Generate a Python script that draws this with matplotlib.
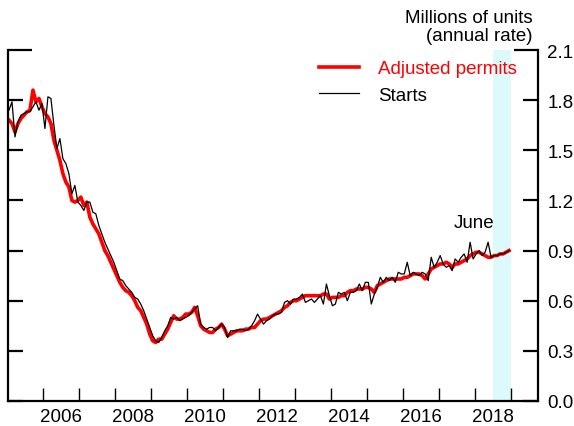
import numpy as np
import matplotlib
matplotlib.use("Agg")
import matplotlib.pyplot as plt

plt.rcParams['font.family'] = ['Liberation Sans', 'DejaVu Sans']

# monthly values, Jan 2005 onward (millions of units, annual rate)
permits = [
    1.68, 1.66, 1.61, 1.66, 1.69, 1.71, 1.73, 1.74, 1.86, 1.79, 1.81, 1.76,  # 2005
    1.72, 1.70, 1.66, 1.56, 1.50, 1.44, 1.36, 1.31, 1.28, 1.20, 1.19, 1.20,  # 2006
    1.22, 1.17, 1.19, 1.10, 1.06, 1.03, 1.00, 0.95, 0.90, 0.87, 0.83, 0.79,  # 2007
    0.75, 0.71, 0.68, 0.66, 0.65, 0.63, 0.60, 0.56, 0.54, 0.50, 0.46, 0.40,  # 2008
    0.36, 0.35, 0.37, 0.37, 0.40, 0.43, 0.47, 0.51, 0.49, 0.49, 0.50, 0.52,  # 2009
    0.52, 0.53, 0.56, 0.51, 0.45, 0.43, 0.42, 0.41, 0.41, 0.43, 0.44, 0.46,  # 2010
    0.43, 0.39, 0.40, 0.41, 0.42, 0.42, 0.42, 0.43, 0.43, 0.44, 0.44, 0.46,  # 2011
    0.48, 0.49, 0.49, 0.50, 0.51, 0.52, 0.53, 0.54, 0.56, 0.57, 0.59, 0.60,  # 2012
    0.60, 0.61, 0.62, 0.63, 0.63, 0.63, 0.63, 0.63, 0.63, 0.64, 0.64, 0.61,  # 2013
    0.62, 0.62, 0.62, 0.63, 0.63, 0.65, 0.66, 0.66, 0.67, 0.67, 0.67, 0.68,  # 2014
    0.68, 0.67, 0.65, 0.69, 0.70, 0.71, 0.72, 0.73, 0.73, 0.73, 0.73, 0.73,  # 2015
    0.74, 0.74, 0.75, 0.76, 0.76, 0.76, 0.75, 0.73, 0.76, 0.79, 0.80, 0.81,  # 2016
    0.82, 0.82, 0.83, 0.82, 0.80, 0.82, 0.82, 0.83, 0.84, 0.85, 0.87, 0.88,  # 2017
    0.89, 0.89, 0.88, 0.87, 0.86, 0.86, 0.87, 0.87, 0.88, 0.88, 0.89, 0.90,  # 2018
]

starts = [
    1.74, 1.79, 1.58, 1.67, 1.71, 1.72, 1.73, 1.73, 1.76, 1.79, 1.74, 1.78,  # 2005
    1.63, 1.82, 1.81, 1.65, 1.51, 1.57, 1.45, 1.42, 1.36, 1.24, 1.29, 1.19,  # 2006
    1.17, 1.14, 1.19, 1.19, 1.13, 1.12, 1.05, 1.00, 0.95, 0.91, 0.87, 0.83,  # 2007
    0.78, 0.73, 0.72, 0.69, 0.67, 0.65, 0.62, 0.61, 0.58, 0.54, 0.49, 0.44,  # 2008
    0.39, 0.36, 0.35, 0.38, 0.42, 0.45, 0.50, 0.49, 0.50, 0.48, 0.49, 0.50,  # 2009
    0.51, 0.53, 0.55, 0.57, 0.46, 0.44, 0.43, 0.44, 0.44, 0.42, 0.44, 0.46,  # 2010
    0.44, 0.38, 0.42, 0.42, 0.42, 0.43, 0.43, 0.42, 0.43, 0.45, 0.48, 0.52,  # 2011
    0.49, 0.46, 0.48, 0.49, 0.51, 0.52, 0.52, 0.53, 0.59, 0.60, 0.58, 0.61,  # 2012
    0.61, 0.62, 0.64, 0.59, 0.60, 0.61, 0.59, 0.61, 0.63, 0.58, 0.70, 0.63,  # 2013
    0.57, 0.58, 0.65, 0.64, 0.65, 0.60, 0.65, 0.65, 0.66, 0.70, 0.66, 0.71,  # 2014
    0.71, 0.58, 0.64, 0.68, 0.74, 0.71, 0.74, 0.72, 0.74, 0.71, 0.77, 0.76,  # 2015
    0.76, 0.83, 0.75, 0.77, 0.76, 0.75, 0.77, 0.76, 0.72, 0.86, 0.80, 0.83,  # 2016
    0.87, 0.82, 0.80, 0.81, 0.78, 0.85, 0.83, 0.86, 0.88, 0.83, 0.95, 0.85,  # 2017
    0.88, 0.90, 0.87, 0.89, 0.95, 0.86,                                      # 2018 (thru June)
]
# dark line drawn over the permits in the shaded period, Jun-Dec 2018
starts_ext = [0.86, 0.87, 0.87, 0.88, 0.88, 0.89, 0.90]

year_ticks = list(range(2006, 2020))
year_labels = ['2006', '2008', '2010', '2012', '2014', '2016', '2018']
shade = (2018.5, 2019.0)

t_perm = 2005 + (np.arange(len(permits)) + 0.5) / 12
t_starts = 2005 + (np.arange(len(starts)) + 0.5) / 12
t_ext = t_starts[-1] + np.arange(len(starts_ext)) / 12

fig = plt.figure(figsize=(5.74, 4.27), dpi=100)
ax = fig.add_axes([7.5 / 574, 25 / 427, 530 / 574, 351 / 427])

ax.axvspan(shade[0], shade[1], color='#dcfafc', lw=0, zorder=0)
ax.plot(t_perm, permits, color='#ff0000', lw=2.6, label='Adjusted permits', zorder=2)
ax.plot(t_starts, starts, color='black', lw=0.9, label='Starts', zorder=3)
ax.plot(t_ext, starts_ext, color='black', lw=0.9, zorder=3)

ax.set_xlim(2005.0, 2019.75)
ax.set_ylim(0, 2.1)

for s in ['left', 'right', 'bottom']:
    ax.spines[s].set_linewidth(1.6)
ax.spines['top'].set_visible(False)

ax.set_yticks(np.arange(0, 2.11, 0.3))
ax.yaxis.set_major_formatter(matplotlib.ticker.FormatStrFormatter('%.1f'))
ax.tick_params(axis='y', which='major', direction='in', length=11, width=1.6,
               left=True, right=True, labelleft=False, labelright=True,
               labelsize=13.5, pad=7)
# the top tick is drawn longer on both sides
top = ax.yaxis.get_major_ticks()[-1]
top.tick1line.set_markersize(17.5)
top.tick2line.set_markersize(17.5)

ax.set_xticks(year_ticks)
ax.set_xticklabels([])
ax.set_xticks([int(y) + 0.5 for y in year_labels], minor=True)
ax.set_xticklabels(year_labels, minor=True)
ax.tick_params(axis='x', which='major', direction='in', length=9.5, width=1.0)
ax.tick_params(axis='x', which='minor', length=0, labelsize=13.5, pad=5)

ax.text(2018.56, 1.065, 'June', ha='right', va='center', fontsize=13.5)

leg = ax.legend(loc='upper left', bbox_to_anchor=(319 / 574, 1 - 61 / 427),
                bbox_transform=fig.transFigure, frameon=False, fontsize=13.5,
                handlelength=2.15, handletextpad=1.0, labelspacing=0.5,
                borderpad=0, borderaxespad=0)
leg.get_texts()[0].set_color('#ff0000')

fig.text(533 / 574, 1 - 10 / 427, 'Millions of units\n(annual rate)',
         ha='right', va='top', fontsize=13.5, linespacing=1.05,
         multialignment='right')

fig.savefig('out.png', dpi=100)
